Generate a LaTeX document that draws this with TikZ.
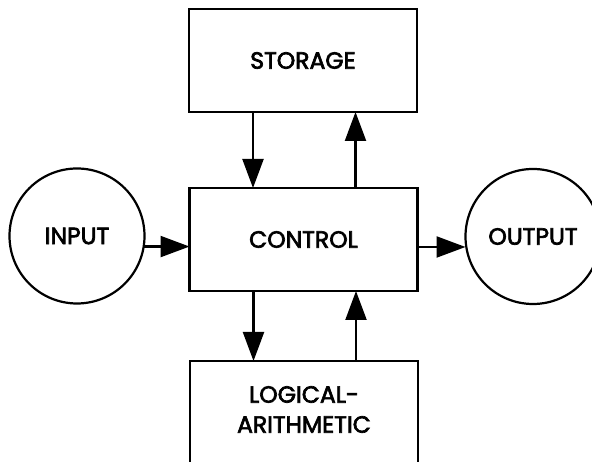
\documentclass[tikz,border=0pt]{standalone}
\usepackage{fontspec}
\setmainfont{Poppins}[FakeBold=2.8]
\usetikzlibrary{arrows.meta}
\begin{document}
\begin{tikzpicture}[x=1pt,y=1pt,
  unit/.style={draw, line width=2.2pt, inner sep=0pt, outer sep=0pt,
               font=\fontsize{23.5}{29}\selectfont, align=center},
  box/.style={unit, rectangle, minimum width=228pt, minimum height=103pt},
  port/.style={unit, circle, minimum size=135pt},
  flow/.style={line width=2.2pt, -{Triangle[length=29pt,width=21pt]}}]
  \useasboundingbox (0,0) rectangle (592,462);
  % units of the machine
  \node[box] (storage) at (303,401.5) {STORAGE};
  \node[box] (control) at (303.5,222.5) {CONTROL};
  \node[box, minimum height=105pt] (logic) at (304,48.5) {};
  \node[font=\fontsize{23.5}{30}\selectfont, align=center] (logictext)
       at ([yshift=4pt]logic.center) {LOGICAL-\\ARITHMETIC};
  \node[port] (input)  at (77,226)    {INPUT};
  \node[port] (output) at (533,225.5) {OUTPUT};
  % data paths between the units
  \draw[flow] ([xshift=-50pt]storage.south) -- ([xshift=-50pt]storage.south |- control.north);
  \draw[flow] ([xshift=52pt]control.north) -- ([xshift=52pt]control.north |- storage.south);
  \draw[flow] ([xshift=-50pt]control.south) -- ([xshift=-50pt]control.south |- logic.north);
  \draw[flow] ([xshift=52pt]logic.north) -- ([xshift=52pt]logic.north |- control.south);
  \draw[flow] (input.-9.5) -- (input.-9.5 -| control.west);
  \draw[flow] ([yshift=-7.5pt]control.east) -- ([yshift=-7.5pt]control.east -| output.west);
\end{tikzpicture}
\end{document}
